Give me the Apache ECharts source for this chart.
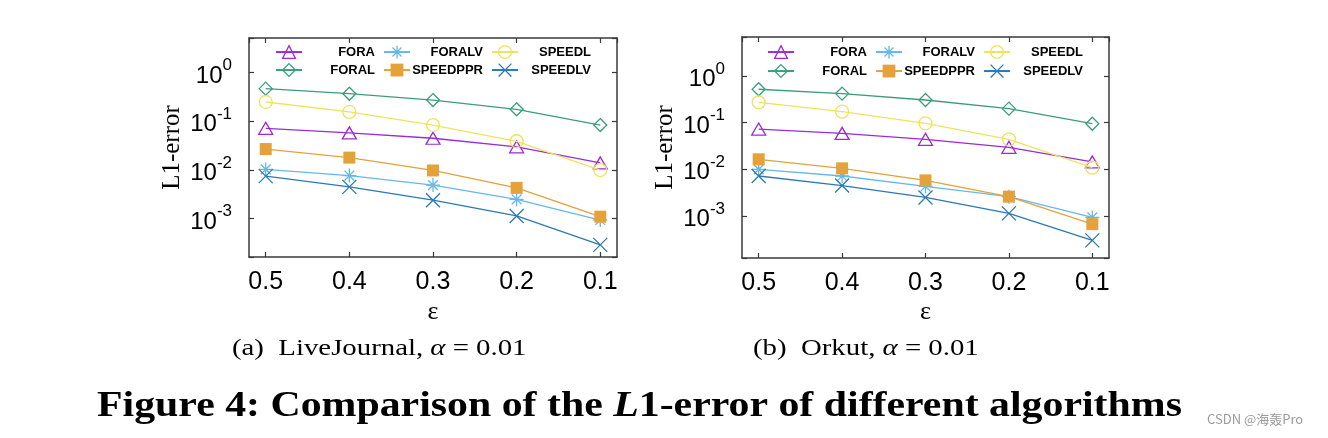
<!DOCTYPE html>
<html>
<head>
<meta charset="utf-8">
<script src="https://cdn.jsdelivr.net/npm/echarts@6/dist/echarts.min.js"></script>
<style>html,body{margin:0;padding:0;background:#fff;}#c{width:1328px;height:438px;}</style>
</head>
<body>
<div id="c"></div>
<script>
// ---- data ----
const epsValues = [0.5, 0.4, 0.3, 0.2, 0.1];
const seriesNames = ['FORA', 'FORAL', 'FORALV', 'SPEEDPPR', 'SPEEDL', 'SPEEDLV'];
const legendRow1 = ['FORA', 'FORALV', 'SPEEDL'];
const legendRow2 = ['FORAL', 'SPEEDPPR', 'SPEEDLV'];

// (a) LiveJournal
const lj_FORA     = [0.072, 0.058, 0.045, 0.030, 0.014];
const lj_FORAL    = [0.47, 0.37, 0.274, 0.177, 0.084];
const lj_FORALV   = [0.0103, 0.0077, 0.0049, 0.0025, 0.00094];
const lj_SPEEDPPR = [0.027, 0.018, 0.0098, 0.0043, 0.0011];
const lj_SPEEDL   = [0.25, 0.156, 0.084, 0.039, 0.010];
const lj_SPEEDLV  = [0.0075, 0.0045, 0.0024, 0.00114, 0.00029];

// (b) Orkut
const ok_FORA     = [0.073, 0.059, 0.044, 0.0296, 0.0144];
const ok_FORAL    = [0.52, 0.42, 0.306, 0.20, 0.095];
const ok_FORALV   = [0.010, 0.0072, 0.0043, 0.0026, 0.00093];
const ok_SPEEDPPR = [0.0164, 0.0105, 0.0058, 0.0026, 0.00067];
const ok_SPEEDL   = [0.273, 0.172, 0.097, 0.044, 0.0109];
const ok_SPEEDLV  = [0.0072, 0.0045, 0.0025, 0.00114, 0.0003];

const captionA = '(a)  LiveJournal, {i|α} = 0.01';
const captionB = '(b)  Orkut, {i|α} = 0.01';
const xName = 'ε';
const yName = 'L1-error';

// ---- styles ----
const COLORS = {
  FORA: '#9a2bd6', FORAL: '#3a9e7c', FORALV: '#66b8e8',
  SPEEDPPR: '#e3a23a', SPEEDL: '#efe35a', SPEEDLV: '#2b79b5'
};
const SYMBOLS = {
  FORA: 'triangle', FORAL: 'diamond',
  FORALV: 'path://M0,-1L0,1M-1,0L1,0M-0.7,-0.7L0.7,0.7M-0.7,0.7L0.7,-0.7',
  SPEEDPPR: 'rect', SPEEDL: 'circle',
  SPEEDLV: 'path://M-1,-1L1,1M-1,1L1,-1'
};
const SIZES = { FORA: [14, 12], FORAL: 13, FORALV: 14, SPEEDPPR: 12, SPEEDL: 13, SPEEDLV: 14 };
const FRAME = '#3a3a3a';

function yLabel(v) {
  const e = Math.log10(v);
  const r = Math.round(e);
  if (Math.abs(e - r) > 1e-6) return '';
  return '{b|10}{s|' + r + '}';
}
function xLabel(v) {
  const r = Math.round(v * 10);
  if (Math.abs(v * 10 - r) > 1e-6) return '';
  return (r / 10).toFixed(1);
}

const grids = [
  { left: 249, top: 38, width: 368, height: 219 },
  { left: 742, top: 37, width: 367, height: 221 }
];
const yRanges = [
  [Math.pow(10, -3.787), Math.pow(10, 0.713)],
  [Math.pow(10, -3.9), Math.pow(10, 0.836)]
];

const xAxes = [], yAxes = [];
grids.forEach((g, gi) => {
  const line = { show: true, lineStyle: { color: FRAME, width: 1.5 } };
  const tick = { show: true, inside: true, length: 5, lineStyle: { color: FRAME, width: 1.2 } };
  xAxes.push({
    gridIndex: gi, type: 'value', min: 0.08, max: 0.52, inverse: true, position: 'bottom',
    axisLine: line, axisTick: tick, splitLine: { show: false },
    axisLabel: { formatter: xLabel, color: '#000', fontSize: 25, fontFamily: 'Liberation Sans', margin: 13,
                 showMinLabel: false, showMaxLabel: false },
    name: xName, nameLocation: 'middle', nameGap: 42 - gi, nameMoveOverlap: false,
    nameTextStyle: { fontSize: 26, fontFamily: 'Liberation Serif', color: '#000' }
  });
  xAxes.push({
    gridIndex: gi, type: 'value', min: 0.08, max: 0.52, inverse: true, position: 'top',
    axisLine: line, axisTick: tick, splitLine: { show: false }, axisLabel: { show: false }
  });
  yAxes.push({
    gridIndex: gi, type: 'log', logBase: 10, min: yRanges[gi][0], max: yRanges[gi][1], position: 'left',
    axisLine: line, axisTick: tick, splitLine: { show: false }, minorTick: { show: false },
    axisLabel: {
      formatter: yLabel, margin: 17, color: '#000',
      rich: {
        b: { fontSize: 24, fontFamily: 'Liberation Sans', color: '#000', padding: [7, 0, 0, 0] },
        s: { fontSize: 17, fontFamily: 'Liberation Sans', color: '#000', verticalAlign: 'top' }
      }
    },
    name: yName, nameLocation: 'middle', nameGap: 64,
    nameTextStyle: { fontSize: 25, fontFamily: 'Liberation Serif', color: '#000' }
  });
  yAxes.push({
    gridIndex: gi, type: 'log', logBase: 10, min: yRanges[gi][0], max: yRanges[gi][1], position: 'right',
    axisLine: line, axisTick: tick, splitLine: { show: false }, axisLabel: { show: false }
  });
});

const dataSets = [
  { FORA: lj_FORA, FORAL: lj_FORAL, FORALV: lj_FORALV, SPEEDPPR: lj_SPEEDPPR, SPEEDL: lj_SPEEDL, SPEEDLV: lj_SPEEDLV },
  { FORA: ok_FORA, FORAL: ok_FORAL, FORALV: ok_FORALV, SPEEDPPR: ok_SPEEDPPR, SPEEDL: ok_SPEEDL, SPEEDLV: ok_SPEEDLV }
];

const series = [];
dataSets.forEach((ds, gi) => {
  seriesNames.forEach((name, si) => {
    const c = COLORS[name];
    const filled = name === 'SPEEDPPR';
    series.push({
      name: name, type: 'line', xAxisIndex: 2 * gi, yAxisIndex: 2 * gi,
      data: epsValues.map((x, i) => [x, ds[name][i]]),
      symbol: SYMBOLS[name], symbolSize: SIZES[name], showAllSymbol: true,
      lineStyle: { color: c, width: 1.3 },
      itemStyle: filled ? { color: c, borderWidth: 0 } : { color: 'transparent', borderColor: c, borderWidth: 1.3 },
      emphasis: { disabled: true }, z: 2 + si, animation: false
    });
  });
});

function mkLegend(data, left, top) {
  return {
    data: data, left: left, top: top, orient: 'horizontal', selectedMode: false,
    itemWidth: 26, itemHeight: 16, itemGap: 8, padding: 0,
    itemStyle: { borderWidth: 1.3 },
    formatter: n => '{n|' + n + '}',
    textStyle: { rich: { n: { width: 68, align: 'right', fontSize: 13, fontWeight: 'bold', fontFamily: 'Liberation Sans', color: '#000' } } }
  };
}

const serifRich = { i: { fontStyle: 'italic', fontSize: 24, fontFamily: 'Liberation Serif' } };

const option = {
  backgroundColor: '#fff',
  animation: false,
  grid: grids,
  xAxis: xAxes,
  yAxis: yAxes,
  legend: [
    mkLegend(legendRow1, 275, 45), mkLegend(legendRow2, 275, 63),
    mkLegend(legendRow1, 767, 45), mkLegend(legendRow2, 767, 64)
  ],
  series: series,
  graphic: [
    { type: 'text', x: 232, y: 337, scaleX: 1.2, style: { text: captionA, fill: '#000', font: '24px "Liberation Serif"', rich: serifRich } },
    { type: 'text', x: 753, y: 337, scaleX: 1.2, style: { text: captionB, fill: '#000', font: '24px "Liberation Serif"', rich: serifRich } },
    { type: 'text', x: 97, y: 389, scaleX: 1.195, style: {
      text: '{b|Figure 4: Comparison of the }{i|L}{b|1-error of different algorithms}', fill: '#000',
      rich: {
        b: { fontSize: 35, fontWeight: 'bold', fontFamily: 'Liberation Serif', color: '#000' },
        i: { fontSize: 35, fontStyle: 'italic', fontWeight: 'bold', fontFamily: 'Liberation Serif', color: '#000' }
      } } },
    { type: 'text', x: 1207, y: 413, style: { text: 'CSDN @海轰Pro', fill: '#9a9a9a', font: '13px "Noto Sans CJK SC"' } }
  ]
};

const chart = echarts.init(document.getElementById('c'), null, { renderer: 'canvas' });
chart.setOption(option);
</script>
</body>
</html>
